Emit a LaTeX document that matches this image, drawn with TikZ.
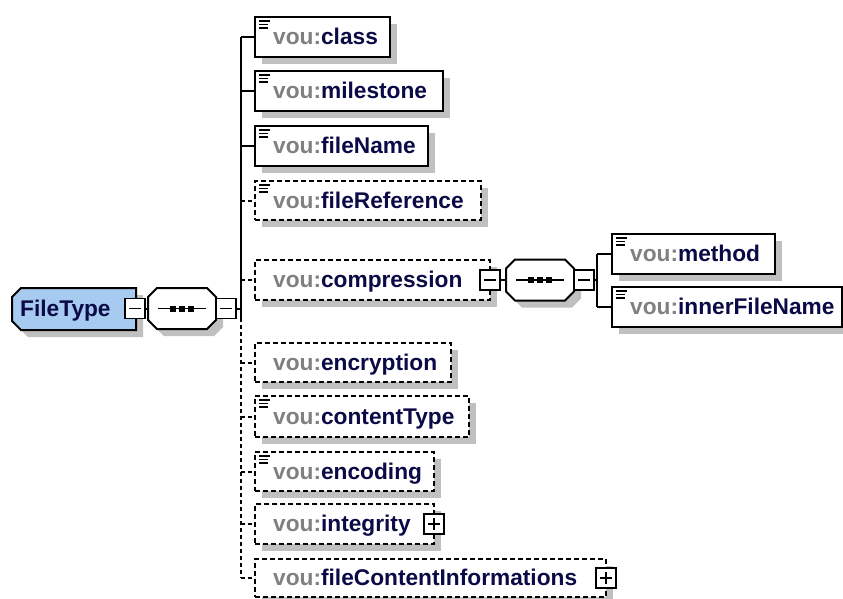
\documentclass[tikz,border=0pt]{standalone}
\usepackage{fontspec}
\setmainfont{Liberation Sans}
\definecolor{navy}{RGB}{10,10,70}
\definecolor{pfx}{RGB}{128,128,128}
\definecolor{shd}{RGB}{192,192,192}
\definecolor{ftblue}{RGB}{166,202,240}
\tikzset{
  elbox/.style={draw=black, fill=white, line width=2pt, inner sep=0pt, outer sep=0pt},
  solidbox/.style={elbox},
  dashbox/.style={elbox, dash pattern=on 5pt off 3pt},
  lbl/.style={anchor=base west, inner sep=0pt, font=\fontsize{22.7}{26}\selectfont\bfseries},
  conn/.style={line width=2pt},
  dconn/.style={line width=2pt, dash pattern=on 4pt off 3pt},
  btn/.style={draw=black, fill=white, line width=1.7pt, minimum size=20pt, inner sep=0pt, outer sep=0pt},
  minusbtn/.style={btn, path picture={\draw[line width=1.6pt]
      ([xshift=-6pt]path picture bounding box.center) -- ([xshift=6pt]path picture bounding box.center);}},
  plusbtn/.style={btn, path picture={\draw[line width=1.6pt]
      ([xshift=-6pt]path picture bounding box.center) -- ([xshift=6pt]path picture bounding box.center)
      ([yshift=-6pt]path picture bounding box.center) -- ([yshift=6pt]path picture bounding box.center);}},
  iconline/.style={line width=1.5pt},
  comp/.pic={
    \fill[shd] (-25+7,-20.5+7) -- (25+7,-20.5+7) -- (34+7,-11.5+7) -- (34+7,11.5+7) -- (25+7,20.5+7)
       -- (-25+7,20.5+7) -- (-34+7,11.5+7) -- (-34+7,-11.5+7) -- cycle;
    \draw[fill=white, line width=2pt] (-25,-20.5) -- (25,-20.5) -- (34,-11.5) -- (34,11.5) -- (25,20.5)
       -- (-25,20.5) -- (-34,11.5) -- (-34,-11.5) -- cycle;
    \draw[line width=1.6pt] (-24,0) -- (24,0);
    \fill (-12,-3) rectangle (-6,3);
    \fill (-3,-3) rectangle (3,3);
    \fill (6,-3) rectangle (12,3);
    \node[inner sep=0pt, outer sep=0pt, minimum width=68pt, minimum height=41pt] (-box) {};
  }
}
\newcommand\elem[8]{%
  \fill[shd] (#2+7,#3+7) rectangle (#4+7,#5+7);
  \node[#6, minimum width={#4-#2}, minimum height={#5-#3}] (#1) at ({(#2+#4)/2},{(#3+#5)/2}) {};
  \ifnum#7=1
    \draw[iconline] (#2+4,#3+4) -- ++(11,0) (#2+4,#3+7.5) -- ++(9,0) (#2+4,#3+11) -- ++(9,0);
  \fi
  \node[lbl] (#1-t) at (#2+18,{(#3+#5)/2+7.5}) {\textcolor{pfx}{vou:}\textcolor{navy}{#8}};
}
\begin{document}
\begin{tikzpicture}[x=1pt,y=-1pt]
\useasboundingbox (0,0) rectangle (843,598);
% root element
\fill[shd] (21+7,288+7) -- (136+7,288+7) -- (136+7,330+7) -- (21+7,330+7) -- (12+7,321+7) -- (12+7,297+7) -- cycle;
\draw[fill=ftblue, line width=2pt] (21,288) -- (136,288) -- (136,330) -- (21,330) -- (12,321) -- (12,297) -- cycle;
\node[lbl] (ft) at (20,316.5) {\textcolor{navy}{FileType}};
% compositors
\pic (comp1) at (182,308.5) {comp};
\pic (comp2) at (540,280) {comp};
% children
\elem{class}{255}{17}{390}{57}{solidbox}{1}{class}
\elem{milestone}{255}{71}{443}{111}{solidbox}{1}{milestone}
\elem{fileName}{255}{126}{428}{166}{solidbox}{1}{fileName}
\elem{fileReference}{255}{181}{481}{220}{dashbox}{1}{fileReference}
\elem{compression}{255}{260}{490}{300}{dashbox}{0}{compression}
\elem{encryption}{255}{343}{451}{382}{dashbox}{0}{encryption}
\elem{contentType}{255}{396}{469}{437}{dashbox}{1}{contentType}
\elem{encoding}{255}{452}{434}{491}{dashbox}{1}{encoding}
\elem{integrity}{255}{504}{434}{544}{dashbox}{0}{integrity}
\elem{fci}{255}{559}{606}{597}{dashbox}{0}{fileContentInformations}
\elem{method}{612}{234}{775}{274}{solidbox}{1}{method}
\elem{inner}{612}{287}{842}{327}{solidbox}{1}{innerFileName}
% buttons
\node[minusbtn] (ftmin) at (135,308.5) {};
\node[minusbtn] (c1min) at (226,308.5) {};
\node[minusbtn] (cmpmin) at (490,280) {};
\node[minusbtn] (c2min) at (584,280) {};
\node[plusbtn] (intplus) at (434,524) {};
\node[plusbtn] (fciplus) at (606,578) {};
% connectors
\coordinate (spx) at (241,0);
\coordinate (bx) at (597,0);
\coordinate (spmid) at (241,318);
\draw[conn] (ftmin.east) -- (comp1-box.west);
\draw[conn] (c1min.east) -- (c1min.east -| spx);
\draw[conn] (class.west -| spx) -- (spmid);
\draw[dconn] (spmid) -- (fci.west -| spx);
\foreach \n in {class,milestone,fileName}
  \draw[conn] (\n.west -| spx) -- (\n.west);
\foreach \n in {fileReference,compression,encryption,contentType,encoding,integrity,fci}
  \draw[dconn] (\n.west -| spx) -- (\n.west);
\draw[conn] (cmpmin.east) -- (comp2-box.west);
\draw[conn] (c2min.east) -- (c2min.east -| bx);
\draw[conn] (method.west -| bx) -- (inner.west -| bx);
\draw[conn] (method.west -| bx) -- (method.west);
\draw[conn] (inner.west -| bx) -- (inner.west);
\end{tikzpicture}
\end{document}
